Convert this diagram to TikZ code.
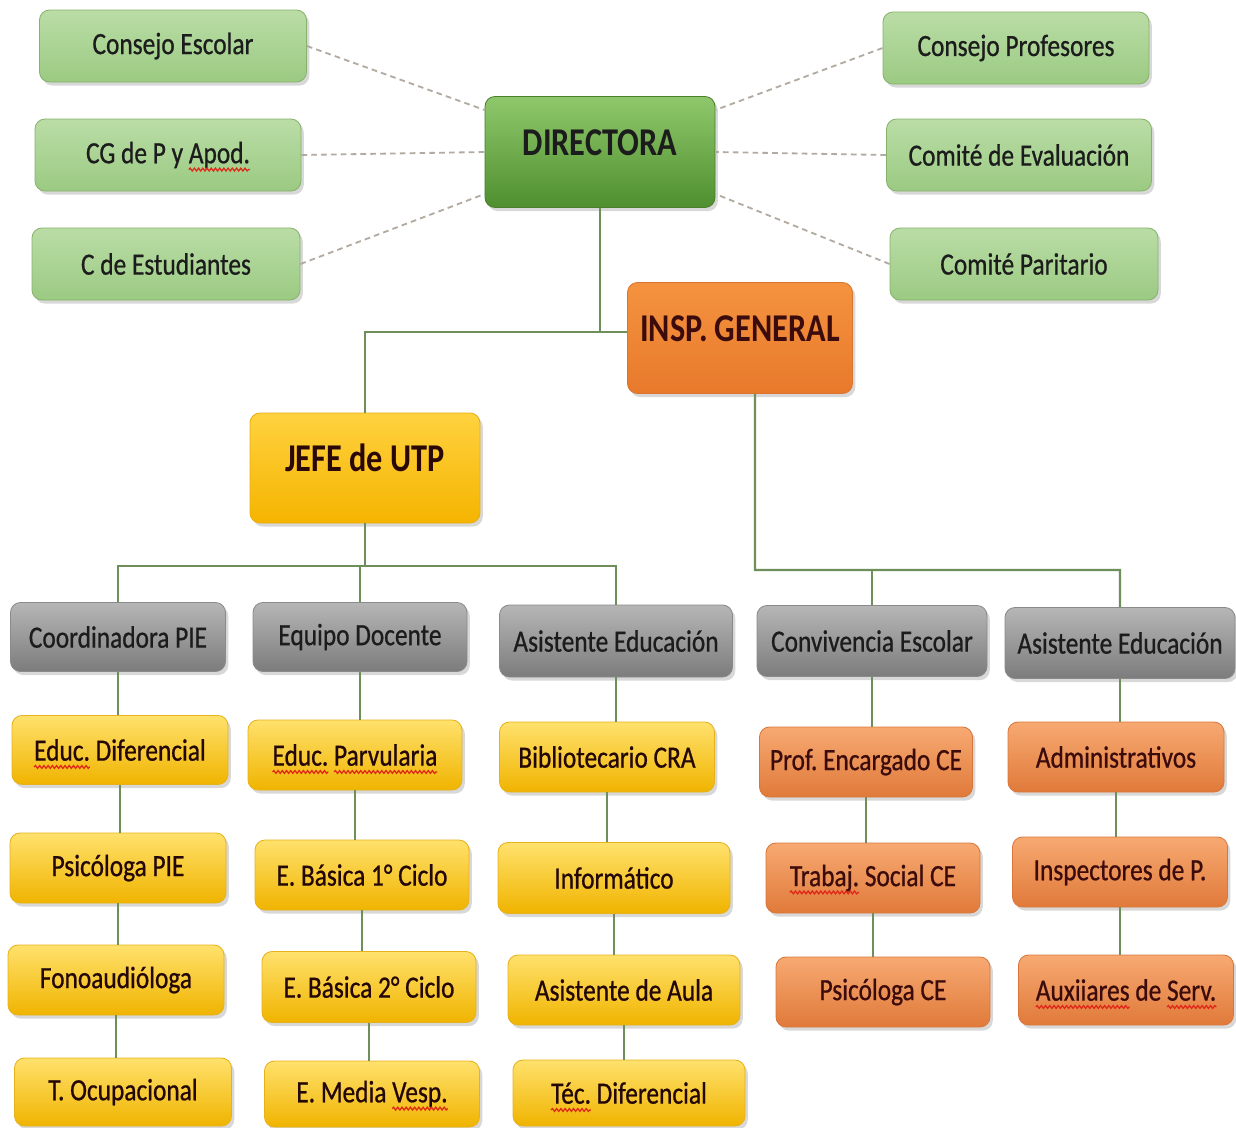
\documentclass[tikz,border=0pt]{standalone}
\usepackage{fontspec}
\setmainfont{Carlito}[FakeStretch=0.82]
\newfontfamily\lblfam{Carlito}[FakeStretch=0.82, FakeBold=0.7]
\newcommand\lblfont{\lblfam\fontsize{22}{26}\selectfont\frenchspacing}
\frenchspacing
\usetikzlibrary{shadows,decorations.pathmorphing}
\definecolor{spell}{HTML}{E02818}
\newcommand\wvmeasure[4]{% id, full text, prefix, word
  \setbox0\hbox{\lblfont #2}\setbox1\hbox{\lblfont #3}\setbox2\hbox{\lblfont #4}%
  \dimen0=\dimexpr\wd1-0.5\wd0\relax
  \expandafter\xdef\csname wvo#1\endcsname{\the\dimen0}%
  \expandafter\xdef\csname wvl#1\endcsname{\the\wd2}}
\newcommand\wavy[2]{% node, id
  \edef\wva{\csname wvo#2\endcsname}\edef\wvb{\csname wvl#2\endcsname}%
  \draw[wave] ([xshift=\wva, yshift=-4.5pt]#1.base) -- ++(\wvb,0pt);}
\definecolor{txtdark}{HTML}{1C1C1C}
\definecolor{txtmaroon}{HTML}{3C0C0C}
\definecolor{lineg}{HTML}{6F8F5A}
\definecolor{dashgray}{HTML}{B3AAA2}
\definecolor{lgTop}{HTML}{BADDA6}
\definecolor{lgBot}{HTML}{9BCA82}
\definecolor{lgBd}{HTML}{86B26C}
\definecolor{drTop}{HTML}{8FC86C}
\definecolor{drBot}{HTML}{4F8F2F}
\definecolor{drBd}{HTML}{4A7F2C}
\definecolor{inTop}{HTML}{F4933F}
\definecolor{inBot}{HTML}{E8792C}
\definecolor{inBd}{HTML}{D8752F}
\definecolor{jeTop}{HTML}{FFD23F}
\definecolor{jeBot}{HTML}{F5B400}
\definecolor{jeBd}{HTML}{E8AE10}
\definecolor{grTop}{HTML}{B6B6B6}
\definecolor{grBot}{HTML}{7C7C7C}
\definecolor{grBd}{HTML}{8A8A8A}
\definecolor{yeTop}{HTML}{FFE16C}
\definecolor{yeBot}{HTML}{F0B400}
\definecolor{yeBd}{HTML}{E6B21C}
\definecolor{orTop}{HTML}{F7A972}
\definecolor{orBot}{HTML}{E07A3A}
\definecolor{orBd}{HTML}{D9773A}
\tikzset{
  box/.style={rounded corners=0.25cm, align=center, inner sep=0pt, line width=0.6pt,
    font=\lblfont, text=txtdark,
    drop shadow={opacity=0.3, shadow xshift=0.07cm, shadow yshift=-0.09cm}},
  sz/.style 2 args={minimum width=#1*0.025cm, minimum height=#2*0.025cm},
  lgreen/.style={box, draw=lgBd, top color=lgTop, bottom color=lgBot},
  hdr/.style={box, font=\fontsize{28}{32}\selectfont\bfseries, text height=0.65cm, text depth=0.5cm},
  dirbox/.style={hdr, draw=drBd, top color=drTop, bottom color=drBot},
  inspbox/.style={hdr, draw=inBd, top color=inTop, bottom color=inBot, text=txtmaroon},
  jefebox/.style={hdr, draw=jeBd, top color=jeTop, bottom color=jeBot, text=txtmaroon!70!black},
  graybox/.style={box, draw=grBd, top color=grTop, bottom color=grBot},
  yelbox/.style={box, draw=yeBd, top color=yeTop, bottom color=yeBot, text=txtmaroon!60!black},
  orbox/.style={box, draw=orBd, top color=orTop, bottom color=orBot, text=txtmaroon},
  conn/.style={draw=lineg, line width=1.6pt},
  dashln/.style={draw=dashgray, line width=1.3pt, dash pattern=on 4pt off 3pt},
  wave/.style={draw=spell, line width=0.9pt, decorate,
    decoration={snake, amplitude=1pt, segment length=3pt}}
}
\begin{document}
\wvmeasure{A}{CG de P y Apod.}{CG de P y }{Apod.}%
\wvmeasure{B}{Educ. Diferencial}{}{Educ.}%
\wvmeasure{C}{Educ. Parvularia}{}{Educ.}%
\wvmeasure{D}{Educ. Parvularia}{Educ. }{Parvularia}%
\wvmeasure{E}{E. Media Vesp.}{E. Media }{Vesp.}%
\wvmeasure{F}{Téc. Diferencial}{}{Téc.}%
\wvmeasure{G}{Trabaj. Social CE}{}{Trabaj.}%
\wvmeasure{H}{Auxiiares de Serv.}{}{Auxiiares}%
\wvmeasure{I}{Auxiiares de Serv.}{Auxiiares de }{Serv.}%
\begin{tikzpicture}[x=0.025cm, y=-0.025cm]
\useasboundingbox[fill=white] (0,0) rectangle (1236,1127);
% top green
\node[lgreen, sz={267}{72}] (ce) at (173,46) {Consejo Escolar};
\node[lgreen, sz={266}{72}] (cg) at (168,155) {CG de P y Apod.};
\node[lgreen, sz={268}{72}] (cs) at (166,264) {C de Estudiantes};
\node[lgreen, sz={266}{72}] (cp) at (1016,48) {Consejo Profesores};
\node[lgreen, sz={265}{72}] (cev) at (1019,155) {Comité de Evaluación};
\node[lgreen, sz={268}{72}] (cpa) at (1024,264) {Comité Paritario};
% heads
\node[dirbox, sz={230}{111}] (dir) at (600,152) {DIRECTORA};
\node[inspbox, sz={225}{111}] (insp) at (740,338) {INSP. GENERAL};
\node[jefebox, sz={230}{110}] (jefe) at (365,468) {JEFE de UTP};
% gray row
\node[graybox, sz={215}{69}] (g1) at (118,637) {Coordinadora PIE};
\node[graybox, sz={214}{69}] (g2) at (360,637) {Equipo Docente};
\node[graybox, sz={233}{72}] (g3) at (616,641) {Asistente Educación};
\node[graybox, sz={230}{71}] (g4) at (872,641) {Convivencia Escolar};
\node[graybox, sz={230}{71}] (g5) at (1120,643) {Asistente Educación};
% column 1
\node[yelbox, sz={216}{69}] (y11) at (120,750) {Educ. Diferencial};
\node[yelbox, sz={216}{70}] (y12) at (118,868) {Psicóloga PIE};
\node[yelbox, sz={216}{70}] (y13) at (116,980) {Fonoaudióloga};
\node[yelbox, sz={217}{68}] (y14) at (123,1092) {T. Ocupacional};
% column 2
\node[yelbox, sz={214}{70}] (y21) at (355,755) {Educ. Parvularia};
\node[yelbox, sz={214}{70}] (y22) at (362,875) {E. Básica 1° Ciclo};
\node[yelbox, sz={214}{71}] (y23) at (369,987) {E. Básica 2° Ciclo};
\node[yelbox, sz={215}{66}] (y24) at (372,1094) {E. Media Vesp.};
% column 3
\node[yelbox, sz={215}{70}] (y31) at (607,757) {Bibliotecario CRA};
\node[yelbox, sz={232}{71}] (y32) at (614,878) {Informático};
\node[yelbox, sz={232}{70}] (y33) at (624,990) {Asistente de Aula};
\node[yelbox, sz={232}{66}] (y34) at (629,1093) {Téc. Diferencial};
% column 4
\node[orbox, sz={213}{70}] (o41) at (866,762) {Prof. Encargado CE};
\node[orbox, sz={214}{70}] (o42) at (873,878) {Trabaj. Social CE};
\node[orbox, sz={214}{70}] (o43) at (883,992) {Psicóloga CE};
% column 5
\node[orbox, sz={216}{70}] (o51) at (1116,757) {Administrativos};
\node[orbox, sz={215}{70}] (o52) at (1120,872) {Inspectores de P.};
\node[orbox, sz={215}{70}] (o53) at (1126,990) {Auxiiares de Serv.};
% spell-check underlines
\wavy{cg}{A}
\wavy{y11}{B}
\wavy{y21}{C}
\wavy{y21}{D}
\wavy{y24}{E}
\wavy{y34}{F}
\wavy{o42}{G}
\wavy{o53}{H}
\wavy{o53}{I}
% dashed links
\draw[dashln] (ce.east) -- (dir.160);
\draw[dashln] (cg.east) -- (dir.west);
\draw[dashln] (cs.east) -- (dir.200);
\draw[dashln] (cp.west) -- (dir.20);
\draw[dashln] (cev.west) -- (dir.east);
\draw[dashln] (cpa.west) -- (dir.-20);
% tree
\coordinate (hb) at (600,332);
\draw[conn] (dir.south) -- (hb);
\draw[conn] (jefe.north) -- (jefe.north |- hb) -- (hb -| insp.west);
\coordinate (jb) at (363,566);
\draw[conn] (jefe.south) -- (jefe.south |- jb);
\draw[conn] (g1.north) -- (g1.north |- jb) -- (g3.north |- jb) -- (g3.north);
\draw[conn] (g2.north |- jb) -- (g2.north);
\coordinate (ib) at (755,570);
\draw[conn] ([xshift=0.375cm]insp.south) -- (ib) -- (g5.north |- ib) -- (g5.north);
\draw[conn] (g4.north |- ib) -- (g4.north);
\foreach \a/\b in {g1/y11, y11/y12, y12/y13, y13/y14, g2/y21, y21/y22, y22/y23, y23/y24,
  g3/y31, y31/y32, y32/y33, y33/y34, g4/o41, o41/o42, o42/o43, g5/o51, o51/o52, o52/o53}
  \draw[conn] (\a.south) -- (\a.south |- \b.north);
\end{tikzpicture}
\end{document}
